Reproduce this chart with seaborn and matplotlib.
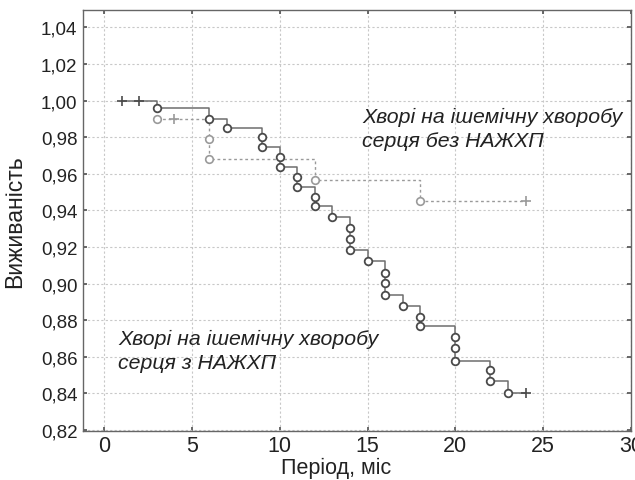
import matplotlib
matplotlib.use("Agg")
import matplotlib.pyplot as plt
import matplotlib.ticker as mticker
import seaborn as sns
import pandas as pd

# ---- data ----
solid_event_t = [3, 6, 7, 9, 9, 10, 10, 11, 11, 12, 12, 13, 14, 14, 14, 15,
                 16, 16, 16, 17, 18, 18, 20, 20, 20, 22, 22, 23]
solid_event_s = [0.9957, 0.990, 0.9853, 0.980, 0.9745, 0.969, 0.9636, 0.958,
                 0.9527, 0.9473, 0.9424, 0.9364, 0.9304, 0.9245, 0.9185, 0.9125,
                 0.906, 0.9005, 0.894, 0.888, 0.882, 0.8766, 0.8707, 0.8647,
                 0.858, 0.8527, 0.8467, 0.840]
solid_cens_t = [1, 2, 24]
solid_cens_s = [1.0, 1.0, 0.840]

dashed_event_t = [3, 6, 6, 12, 18]
dashed_event_s = [0.9897, 0.9788, 0.968, 0.9565, 0.945]
dashed_cens_t = [4, 24]
dashed_cens_s = [0.9897, 0.945]

label_with = "Хворі на ішемічну хворобу\nсерця з НАЖХП"
label_without = "Хворі на ішемічну хворобу\nсерця без НАЖХП"
x_ticks = [0, 5, 10, 15, 20, 25, 30]
y_ticks = [0.82, 0.84, 0.86, 0.88, 0.90, 0.92, 0.94, 0.96, 0.98, 1.00, 1.02, 1.04]


def path_frame(ev_t, ev_s, c_t, c_s):
    rows = [(t, s, 0) for t, s in zip(ev_t, ev_s)] + [(t, s, 1) for t, s in zip(c_t, c_s)]
    df = pd.DataFrame(rows, columns=["t", "s", "cens"])
    df = df.sort_values(["t", "s"], ascending=[True, False], kind="stable").reset_index(drop=True)
    return df


solid = path_frame(solid_event_t, solid_event_s, solid_cens_t, solid_cens_s)
dashed = path_frame(dashed_event_t, dashed_event_s, dashed_cens_t, dashed_cens_s)

sns.set_theme(style="white")
plt.rcParams["font.family"] = ["Liberation Sans", "DejaVu Sans"]

fig = plt.figure(figsize=(6.35, 4.81), dpi=100)
ax = fig.add_axes([83 / 635, 1 - 432 / 481, (631 - 83) / 635, (432 - 11) / 481])

solid_line = "#6e6e6e"
solid_mark = "#4a4a4a"
dash_col = "#9a9a9a"

sns.lineplot(data=dashed, x="t", y="s", estimator=None, sort=False,
             drawstyle="steps-post", color=dash_col, linewidth=1.0,
             linestyle=(0, (2, 2)), ax=ax)
sns.lineplot(data=solid, x="t", y="s", estimator=None, sort=False,
             drawstyle="steps-post", color=solid_line, linewidth=1.1, ax=ax)

d_ev = dashed[dashed.cens == 0]
d_c = dashed[dashed.cens == 1]
s_ev = solid[solid.cens == 0]
s_c = solid[solid.cens == 1]

sns.scatterplot(data=d_ev, x="t", y="s", marker="o", s=30, facecolor="white",
                edgecolor=dash_col, linewidth=1.2, zorder=3, ax=ax)
sns.scatterplot(data=d_c, x="t", y="s", marker="+", s=50, color=dash_col,
                linewidth=1.2, zorder=3, ax=ax)
sns.scatterplot(data=s_ev, x="t", y="s", marker="o", s=30, facecolor="white",
                edgecolor=solid_mark, linewidth=1.3, zorder=4, ax=ax)
sns.scatterplot(data=s_c, x="t", y="s", marker="+", s=50, color=solid_mark,
                linewidth=1.2, zorder=4, ax=ax)

ax.set_xlim(-1.2, 30)
ax.set_ylim(0.8195, 1.0495)
ax.set_xticks(x_ticks)
ax.set_yticks(y_ticks)
ax.yaxis.set_major_formatter(mticker.FuncFormatter(lambda v, p: f"{v:.2f}".replace(".", ",")))
ax.xaxis.set_major_formatter(mticker.FuncFormatter(lambda v, p: f"{int(round(v))}"))
ax.tick_params(axis="x", labelsize=15.5, direction="in", length=3, color="#555555",
               top=True, bottom=True, pad=3, labelcolor="#222222")
ax.tick_params(axis="y", labelsize=13.5, direction="in", length=3, color="#555555",
               left=True, right=True, pad=4, labelcolor="#222222")
ax.grid(True, color="#c8c8c8", linestyle=(0, (2, 2)), linewidth=0.8)
ax.set_axisbelow(True)
for sp in ax.spines.values():
    sp.set_color("#666666")
    sp.set_linewidth(1.0)

ax.set_xlabel("Період, міс", fontsize=15.5, color="#222222")
ax.xaxis.set_label_coords((336 - 83) / 548, -(468 - 432) / 421)
ax.xaxis.label.set_va("center")
ax.set_ylabel("Виживаність", fontsize=16.5, color="#222222")
ax.yaxis.set_label_coords(-(83 - 15) / 548, 0.5)
ax.yaxis.label.set_va("center")

ax.text(14.7, 0.9848, label_without, fontsize=15.3, style="italic", color="#222222",
        ha="left", va="center", linespacing=1.33)
ax.text(0.8, 0.8636, label_with, fontsize=15.3, style="italic", color="#222222",
        ha="left", va="center", linespacing=1.33)

fig.savefig("out.png", dpi=100)
